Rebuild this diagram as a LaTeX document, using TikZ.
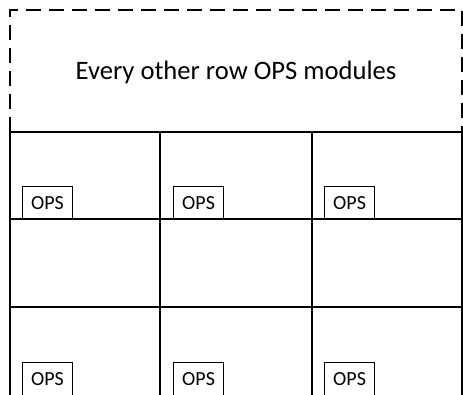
\documentclass[tikz,border=0pt]{standalone}
\usepackage{fontspec}
\setmainfont{Carlito}

\begin{document}
\begin{tikzpicture}[x=1pt, y=-1pt,
    grid line/.style={line width=1.3pt},
    ops/.style={draw, line width=1.1pt, minimum width=50pt, minimum height=33pt,
      inner sep=0pt, anchor=north west, font=\fontsize{20}{23}\selectfont}]
    \useasboundingbox (0, 0) rectangle (463, 394);
    \clip (0, 0) rectangle (463, 394);

    % dashed area on top
    \draw[line width=1.3pt, dash pattern=on 15pt off 8pt] (10, 132)--(10, 10)--(462, 10)--(462, 132);
    \node (title) at (236, 72) {\fontsize{26.6}{30}\selectfont Every other row OPS modules};

    % grid of racks
    \draw[grid line] (10, 132)--(463, 132);
    \draw[grid line] (10, 219)--(463, 219);
    \draw[grid line] (10, 307)--(463, 307);
    \draw[grid line] (10, 132)--(10, 400);
    \draw[grid line] (160, 132)--(160, 400);
    \draw[grid line] (312, 132)--(312, 400);
    \draw[grid line] (462, 132)--(462, 400);

    % OPS modules, first row
    \node[ops] (ops1a) at (22, 186) {OPS};
    \node[ops] (ops1b) at (173, 186) {OPS};
    \node[ops] (ops1c) at (324, 186) {OPS};

    % OPS modules, third row
    \node[ops, minimum height=34pt] (ops3a) at (22, 362) {OPS};
    \node[ops, minimum height=34pt] (ops3b) at (173, 362) {OPS};
    \node[ops, minimum height=34pt] (ops3c) at (324, 362) {OPS};
\end{tikzpicture}
\end{document}
